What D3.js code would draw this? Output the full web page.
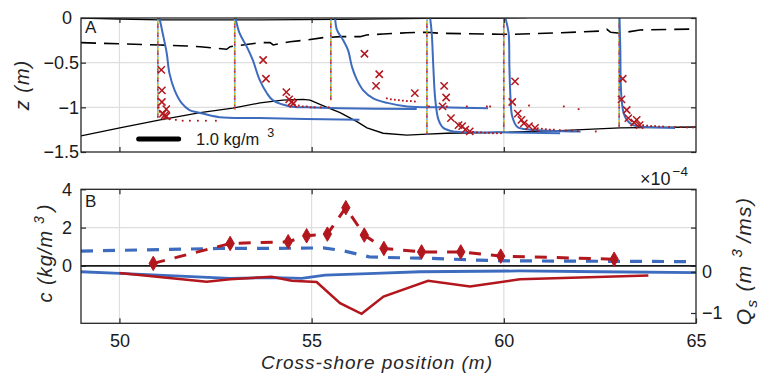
<!DOCTYPE html>
<html>
<head>
<meta charset="utf-8">
<script src="https://cdn.jsdelivr.net/npm/d3@7"></script>
<style>
  body { margin: 0; background: #fff; }
  svg { display: block; font-family: "Liberation Sans", Arial, Helvetica, sans-serif; }
</style>
</head>
<body>
<svg id="chart" width="761" height="379"></svg>
<script>
// ---------- Panel A: bed, water levels and concentration profiles ----------
const bedX  = [49, 50.01, 51.06, 52.1, 52.95, 53.66, 54.25, 54.78, 54.96, 55.4, 55.74, 56.18, 56.44, 56.86, 57.48, 58.0, 58.52, 59.9, 61.46, 63.02, 65];
const bedZ  = [-1.32, -1.23, -1.14, -1.06, -1.01, -0.95, -0.92, -0.91, -0.92, -1.0, -1.06, -1.16, -1.23, -1.29, -1.31, -1.3, -1.29, -1.28, -1.26, -1.23, -1.22];

const surfX = [49, 50, 51.06, 53.66, 55.74, 58, 59.9, 60.6];
const surfZ = [0.0, -0.011, -0.022, -0.022, -0.015, -0.004, 0.0, 0.004];

const troughX = [49, 51.06, 51.75, 52.1, 52.79, 52.88, 53.66, 53.92, 54.0, 54.44, 54.87, 55.3, 55.74, 56.26, 56.43, 56.86, 57.47, 57.99, 58.34, 59.9, 60.25, 61.5, 62.55, 62.68, 62.78, 63.02, 63.54, 65];
const troughZ = [-0.276, -0.302, -0.313, -0.321, -0.35, -0.321, -0.276, -0.276, -0.302, -0.265, -0.246, -0.22, -0.209, -0.209, -0.19, -0.179, -0.165, -0.16, -0.171, -0.182, -0.182, -0.165, -0.145, -0.126, -0.16, -0.171, -0.134, -0.123];

// station positions (m) and depth of the lowest sample (m)
const stationX      = [51, 53, 55.5, 58, 60, 63];
const stationBottom = [-1.12, -1.03, -0.92, -1.31, -1.28, -1.22];

// modelled concentration profiles (kg/m^3) against elevation (m)
const modelC = [
  [0.04, 0.12, 0.22, 0.29, 0.42, 0.59, 0.79, 1.04, 1.54, 2.54, 5.04],
  [0.02, 0.12, 0.30, 0.45, 0.62, 0.80, 0.95, 1.38, 1.80, 2.63, 4.55],
  [0.11, 0.15, 0.31, 0.43, 0.53, 0.65, 0.81, 1.06, 1.41, 1.91, 2.73, 3.93],
  [0.08, 0.12, 0.16, 0.21, 0.29, 0.41, 0.66, 1.16, 1.83, 3.33],
  [0.04, 0.12, 0.14, 0.17, 0.21, 0.34, 0.67, 1.92],
  [0.01, 0.03, 0.04, 0.07, 0.11, 0.19, 0.35, 0.69, 1.40]
];
const modelZ = [
  [0, -0.17, -0.39, -0.62, -0.81, -0.95, -1.03, -1.06, -1.11, -1.12, -1.14],
  [0, -0.17, -0.32, -0.47, -0.69, -0.84, -0.92, -0.99, -1.0, -1.01, -1.02],
  [0, -0.13, -0.25, -0.36, -0.55, -0.69, -0.81, -0.90, -0.95, -0.99, -1.0, -1.01],
  [0, -0.17, -0.55, -0.92, -1.14, -1.23, -1.27, -1.28, -1.28, -1.29],
  [0, -0.17, -0.55, -0.92, -1.10, -1.22, -1.25, -1.27],
  [0, -0.36, -0.73, -0.95, -1.06, -1.14, -1.20, -1.22, -1.23]
];

// measured concentrations (crosses)
const obsC = [
  [0.085, 0.10, 0.10, 0.21, 0.125, 0.17, 0.21],
  [0.71, 0.78, 1.29, 1.36, 1.42, 1.46],
  [0.84, 1.21, 1.13, 2.10],
  [0.43, 0.48, 0.39, 0.60, 0.79, 0.88, 0.96, 1.07],
  [0.28, 0.21, 0.35, 0.44, 0.50, 0.63, 0.78],
  [0.09, 0.06, 0.19, 0.23, 0.375, 0.44, 0.51]
];
const obsZ = [
  [-0.58, -0.81, -0.94, -1.02, -1.07, -1.09, -1.10],
  [-0.47, -0.68, -0.83, -0.91, -0.94, -0.96],
  [-0.40, -0.63, -0.76, -0.84],
  [-0.76, -0.89, -0.99, -1.12, -1.20, -1.21, -1.25, -1.27],
  [-0.71, -0.94, -1.07, -1.14, -1.18, -1.21, -1.23],
  [-0.68, -0.91, -1.03, -1.12, -1.17, -1.14, -1.20]
];

// near-bed high-resolution samples (small dots)
const nearC = [
  [0.02, 0.05, 0.09, 0.14, 0.2, 0.3, 0.45, 0.62, 0.8, 1.0, 1.2, 1.45],
  [1.5, 1.6, 1.7, 1.8, 1.9, 2.0, 2.15, 2.35],
  [1.4, 1.5, 1.6, 1.7, 1.8, 1.9, 2.0, 2.1, 2.45, 2.9, 3.4, 3.9],
  [1.15, 1.25, 1.35, 1.45, 1.55, 1.65, 1.75, 1.85, 1.58],
  [0.85, 0.95, 1.05, 1.15, 1.25, 1.4, 1.55, 1.7, 1.85, 2.3, 0.63, 1.5, 1.87],
  [0.6, 0.7, 0.8, 0.9, 1.0, 1.1, 1.25, 1.4, 1.55, 1.7, 1.85]
];
const nearZ = [
  [-1.0, -1.05, -1.08, -1.1, -1.12, -1.13, -1.14, -1.15, -1.15, -1.15, -1.15, -1.15],
  [-0.97, -0.98, -0.99, -0.99, -1.0, -1.0, -1.0, -1.0],
  [-0.9, -0.91, -0.915, -0.92, -0.925, -0.93, -0.93, -0.935, -0.99, -0.99, -0.99, -0.99],
  [-1.275, -1.28, -1.28, -1.285, -1.285, -1.29, -1.29, -1.29, -0.99],
  [-1.235, -1.24, -1.245, -1.25, -1.25, -1.255, -1.26, -1.26, -1.265, -1.27, -0.98, -0.99, -1.02],
  [-1.2, -1.205, -1.21, -1.21, -1.215, -1.215, -1.22, -1.22, -1.22, -1.225, -1.225]
];

const scaleBarC = 1.0;      // kg/m^3
const scaleBarStart = 50.5; // m

// ---------- Panel B: depth-averaged concentration and transport ----------
const measCX = [50.88, 52.88, 54.39, 54.87, 55.41, 55.89, 56.37, 56.88, 57.86, 58.88, 59.92, 62.87];
const measC  = [0.13, 1.17, 1.26, 1.57, 1.66, 3.04, 1.61, 0.91, 0.73, 0.73, 0.51, 0.35];

const modCX = [49, 50.5, 52.6, 54.0, 55.3, 55.8, 56.5, 56.9, 58.1, 59.3, 60.3, 65];
const modC  = [0.77, 0.83, 0.91, 0.91, 0.94, 0.80, 0.47, 0.44, 0.39, 0.30, 0.26, 0.22];

const measQX = [50.0, 52.27, 52.88, 53.96, 54.48, 55.13, 55.74, 56.3, 56.87, 58.03, 59.12, 60.42, 63.76];
const measQ  = [-0.03, -0.24, -0.18, -0.12, -0.22, -0.25, -0.76, -1.02, -0.60, -0.22, -0.36, -0.18, -0.09]; // x 1e-4

const modQX = [49, 50.0, 52.88, 54.05, 54.74, 55.35, 56.65, 57.82, 60.4, 62.5, 65];
const modQ  = [0.0, -0.04, -0.16, -0.14, -0.16, -0.08, -0.04, 0.0, 0.02, 0.0, -0.02]; // x 1e-4

const xTicks = [50, 55, 60, 65];
const zTicks = [0, -0.5, -1, -1.5];
const cTicks = [0, 2, 4];
const qTicks = [-1, 0];

// ---------- drawing ----------
const RED = "#b3171e", BLUE = "#3d6cbf", INK = "#262626", GRID = "#dedede";
const TICK_FONT = 18;
const svg = d3.select("#chart");

const x  = d3.scaleLinear().domain([49, 65]).range([81, 696]);
const z  = d3.scaleLinear().domain([-1.5, 0]).range([152, 18]);
const yc = d3.scaleLinear().domain([-3, 4]).range([323.3, 189.3]);
const yq = d3.scaleLinear().domain([-1.25, 2]).range([323.3, 189.3]);
const cPix = d3.scaleLinear().domain([0, 1]).range([0, 40]); // profile concentration offset, px per kg/m^3

const defs = svg.append("defs");
defs.append("clipPath").attr("id", "clipA").append("rect")
  .attr("x", 81).attr("y", 18).attr("width", 615).attr("height", 134);
defs.append("clipPath").attr("id", "clipB").append("rect")
  .attr("x", 81).attr("y", 189.3).attr("width", 615).attr("height", 134);

function panelGrid(g, yScale, yGrid, top, bottom) {
  g.append("g").selectAll("line").data([50, 55, 60]).join("line")
    .attr("x1", d => x(d)).attr("x2", d => x(d))
    .attr("y1", top).attr("y2", bottom)
    .attr("stroke", GRID).attr("stroke-width", 1.2);
  g.append("g").selectAll("line").data(yGrid).join("line")
    .attr("x1", 81).attr("x2", 696)
    .attr("y1", d => yScale(d)).attr("y2", d => yScale(d))
    .attr("stroke", GRID).attr("stroke-width", 1.2);
}

function styleAxis(g) {
  g.select(".domain").remove();
  g.selectAll(".tick line").attr("stroke", INK).attr("stroke-width", 1.2);
  g.selectAll(".tick text").attr("fill", "#1a1a1a").attr("font-size", TICK_FONT)
    .attr("font-family", "Liberation Sans, Arial, sans-serif");
}
const fmtMinus = d => (d < 0 ? "\u2212" : "") + Math.abs(d);

// ===== Panel A =====
const gA = svg.append("g");
panelGrid(gA, z, [-0.5, -1], 18, 152);

const plotA = gA.append("g").attr("clip-path", "url(#clipA)");
const lineXZ = d3.line().x(d => x(d[0])).y(d => z(d[1]));

plotA.append("path").datum(d3.zip(bedX, bedZ)).attr("d", lineXZ)
  .attr("fill", "none").attr("stroke", "#000").attr("stroke-width", 1.3);
plotA.append("path").datum(d3.zip(surfX, surfZ)).attr("d", lineXZ)
  .attr("fill", "none").attr("stroke", "#000").attr("stroke-width", 1.3);
plotA.append("path").datum(d3.zip(troughX, troughZ)).attr("d", lineXZ)
  .attr("fill", "none").attr("stroke", "#000").attr("stroke-width", 1.6)
  .attr("stroke-dasharray", "15 8");

// instrument lines, multi-coloured dots
const dotColors = ["#D95319", "#4DBEEE", "#EDB120", "#77AC30", "#D95319", "#7E2F8E"];
stationX.forEach((sx, i) => {
  dotColors.forEach((col, k) => {
    plotA.append("line")
      .attr("x1", x(sx)).attr("x2", x(sx))
      .attr("y1", z(0)).attr("y2", z(stationBottom[i]))
      .attr("stroke", col).attr("stroke-width", 1.7)
      .attr("stroke-dasharray", "1.5 7.5").attr("stroke-dashoffset", -k * 1.5);
  });
});

// modelled profiles
const profLine = d3.line().curve(d3.curveCatmullRom.alpha(0.5));
stationX.forEach((sx, i) => {
  const pts = modelC[i].map((c, j) => [x(sx) + cPix(c), z(modelZ[i][j])]);
  plotA.append("path").datum(pts).attr("d", profLine)
    .attr("fill", "none").attr("stroke", BLUE).attr("stroke-width", 2);
});

// near-bed samples
stationX.forEach((sx, i) => {
  plotA.append("g").selectAll("rect").data(nearC[i].map((c, j) => [c, nearZ[i][j]])).join("rect")
    .attr("x", d => x(sx) + cPix(d[0]) - 0.9).attr("y", d => z(d[1]) - 0.9)
    .attr("width", 1.8).attr("height", 1.8).attr("fill", RED);
});

// measured profiles (crosses)
const cross = d3.symbol(d3.symbolX, 36);
stationX.forEach((sx, i) => {
  plotA.append("g").selectAll("path").data(obsC[i].map((c, j) => [c, obsZ[i][j]])).join("path")
    .attr("d", cross)
    .attr("transform", d => `translate(${x(sx) + cPix(d[0])},${z(d[1])})`)
    .attr("fill", "none").attr("stroke", RED).attr("stroke-width", 1.5);
});

// scale bar
gA.append("line")
  .attr("x1", x(scaleBarStart)).attr("x2", x(scaleBarStart) + cPix(scaleBarC))
  .attr("y1", 139).attr("y2", 139)
  .attr("stroke", "#000").attr("stroke-width", 5).attr("stroke-linecap", "round");
const sbText = gA.append("text").attr("x", 196).attr("y", 145).attr("font-size", 16.5).attr("fill", "#1a1a1a");
sbText.append("tspan").text(scaleBarC.toFixed(1) + " kg/m");
sbText.append("tspan").attr("dx", 8).attr("dy", -8).attr("font-size", 12.5).text("3");

// frame and ticks
gA.append("rect").attr("x", 81).attr("y", 18).attr("width", 615).attr("height", 134)
  .attr("fill", "none").attr("stroke", INK).attr("stroke-width", 1.3);
gA.append("g").attr("transform", "translate(81,0)")
  .call(d3.axisLeft(z).tickValues(zTicks).tickSize(-5).tickPadding(9).tickFormat(fmtMinus))
  .call(styleAxis)
  .call(g => g.selectAll(".tick text").attr("dx", d => d < 0 ? 7 : 0));
gA.append("g").attr("transform", "translate(696,0)")
  .call(d3.axisRight(z).tickValues(zTicks).tickSize(-5).tickFormat(""))
  .call(styleAxis);
gA.append("g").attr("transform", "translate(0,152)")
  .call(d3.axisBottom(x).tickValues([50, 55, 60]).tickSize(-5).tickFormat(""))
  .call(styleAxis);
gA.append("g").attr("transform", "translate(0,18)")
  .call(d3.axisTop(x).tickValues([50, 55, 60]).tickSize(-5).tickFormat(""))
  .call(styleAxis);

gA.append("text").attr("x", 85).attr("y", 33).attr("font-size", 17).attr("fill", "#1a1a1a").text("A");
gA.append("text").attr("transform", "translate(29,85) rotate(-90)")
  .attr("text-anchor", "middle").attr("font-size", 20).attr("font-style", "italic")
  .attr("letter-spacing", 1).attr("fill", "#262626").text("z (m)");

// ===== Panel B =====
const gB = svg.append("g");
panelGrid(gB, yc, [2], 189.3, 323.3);

const plotB = gB.append("g").attr("clip-path", "url(#clipB)");
plotB.append("line").attr("x1", 81).attr("x2", 696).attr("y1", yc(0)).attr("y2", yc(0))
  .attr("stroke", "#1a1a1a").attr("stroke-width", 1.6);

const lineC = d3.line().x(d => x(d[0])).y(d => yc(d[1]));
const lineQ = d3.line().x(d => x(d[0])).y(d => yq(d[1]));

plotB.append("path").datum(d3.zip(modQX, modQ)).attr("d", lineQ)
  .attr("fill", "none").attr("stroke", BLUE).attr("stroke-width", 2.8);
plotB.append("path").datum(d3.zip(measQX, measQ)).attr("d", lineQ)
  .attr("fill", "none").attr("stroke", RED).attr("stroke-width", 2.5);
plotB.append("path").datum(d3.zip(modCX, modC)).attr("d", lineC)
  .attr("fill", "none").attr("stroke", BLUE).attr("stroke-width", 3.2)
  .attr("stroke-dasharray", "12 10");
plotB.append("path").datum(d3.zip(measCX, measC)).attr("d", lineC)
  .attr("fill", "none").attr("stroke", RED).attr("stroke-width", 3)
  .attr("stroke-dasharray", "12 10");
const diamond = d3.symbol(d3.symbolDiamond, 60);
plotB.append("g").selectAll("path").data(d3.zip(measCX, measC)).join("path")
  .attr("d", diamond)
  .attr("transform", d => `translate(${x(d[0])},${yc(d[1])})`)
  .attr("fill", RED).attr("stroke", RED).attr("stroke-width", 1);

gB.append("rect").attr("x", 81).attr("y", 189.3).attr("width", 615).attr("height", 134)
  .attr("fill", "none").attr("stroke", INK).attr("stroke-width", 1.3);
gB.append("g").attr("transform", "translate(81,0)")
  .call(d3.axisLeft(yc).tickValues(cTicks).tickSize(-5).tickPadding(9).tickFormat(fmtMinus))
  .call(styleAxis);
gB.append("g").attr("transform", "translate(696,0)")
  .call(d3.axisRight(yc).tickValues(cTicks).tickSize(-5).tickFormat(""))
  .call(styleAxis);
gB.append("g").attr("transform", "translate(696,0)")
  .call(d3.axisRight(yq).tickValues(qTicks).tickSize(-5).tickPadding(6).tickFormat(fmtMinus))
  .call(styleAxis);
gB.append("g").attr("transform", "translate(0,323.3)")
  .call(d3.axisBottom(x).tickValues(xTicks).tickSize(-5).tickPadding(11))
  .call(styleAxis);
gB.append("g").attr("transform", "translate(0,189.3)")
  .call(d3.axisTop(x).tickValues([50, 55, 60]).tickSize(-5).tickFormat(""))
  .call(styleAxis);

gB.append("text").attr("x", 85).attr("y", 207).attr("font-size", 17).attr("fill", "#1a1a1a").text("B");

// exponent marker for the right axis
const expo = gB.append("text").attr("x", 640).attr("y", 185).attr("font-size", 18).attr("fill", "#1a1a1a");
expo.append("tspan").text("\u00d710");
expo.append("tspan").attr("dx", 2).attr("dy", -9).attr("font-size", 13.5).text("\u22124");

// axis titles
const cLab = gB.append("text").attr("transform", "translate(51.5,253) rotate(-90)")
  .attr("text-anchor", "middle").attr("font-size", 20).attr("font-style", "italic")
  .attr("letter-spacing", 1).attr("fill", "#262626");
cLab.append("tspan").text("c (kg/m");
cLab.append("tspan").attr("dx", 6).attr("dy", -8).attr("font-size", 14).text("3");
cLab.append("tspan").attr("dx", 4).attr("dy", 8).text(")");

const qLab = gB.append("text").attr("transform", "translate(751,261) rotate(-90)")
  .attr("text-anchor", "middle").attr("font-size", 21).attr("font-style", "italic")
  .attr("letter-spacing", 1.3).attr("fill", "#262626");
qLab.append("tspan").text("Q");
qLab.append("tspan").attr("dy", 6).attr("font-size", 15).text("s");
qLab.append("tspan").attr("dy", -6).text(" (m");
qLab.append("tspan").attr("dx", 7).attr("dy", -9).attr("font-size", 15).text("3");
qLab.append("tspan").attr("dx", 5).attr("dy", 9).text("/ms)");

gB.append("text").attr("x", 377).attr("y", 369)
  .attr("text-anchor", "middle").attr("font-size", 19).attr("font-style", "italic")
  .attr("letter-spacing", 1).attr("fill", "#262626").text("Cross-shore position (m)");
</script>
</body>
</html>
